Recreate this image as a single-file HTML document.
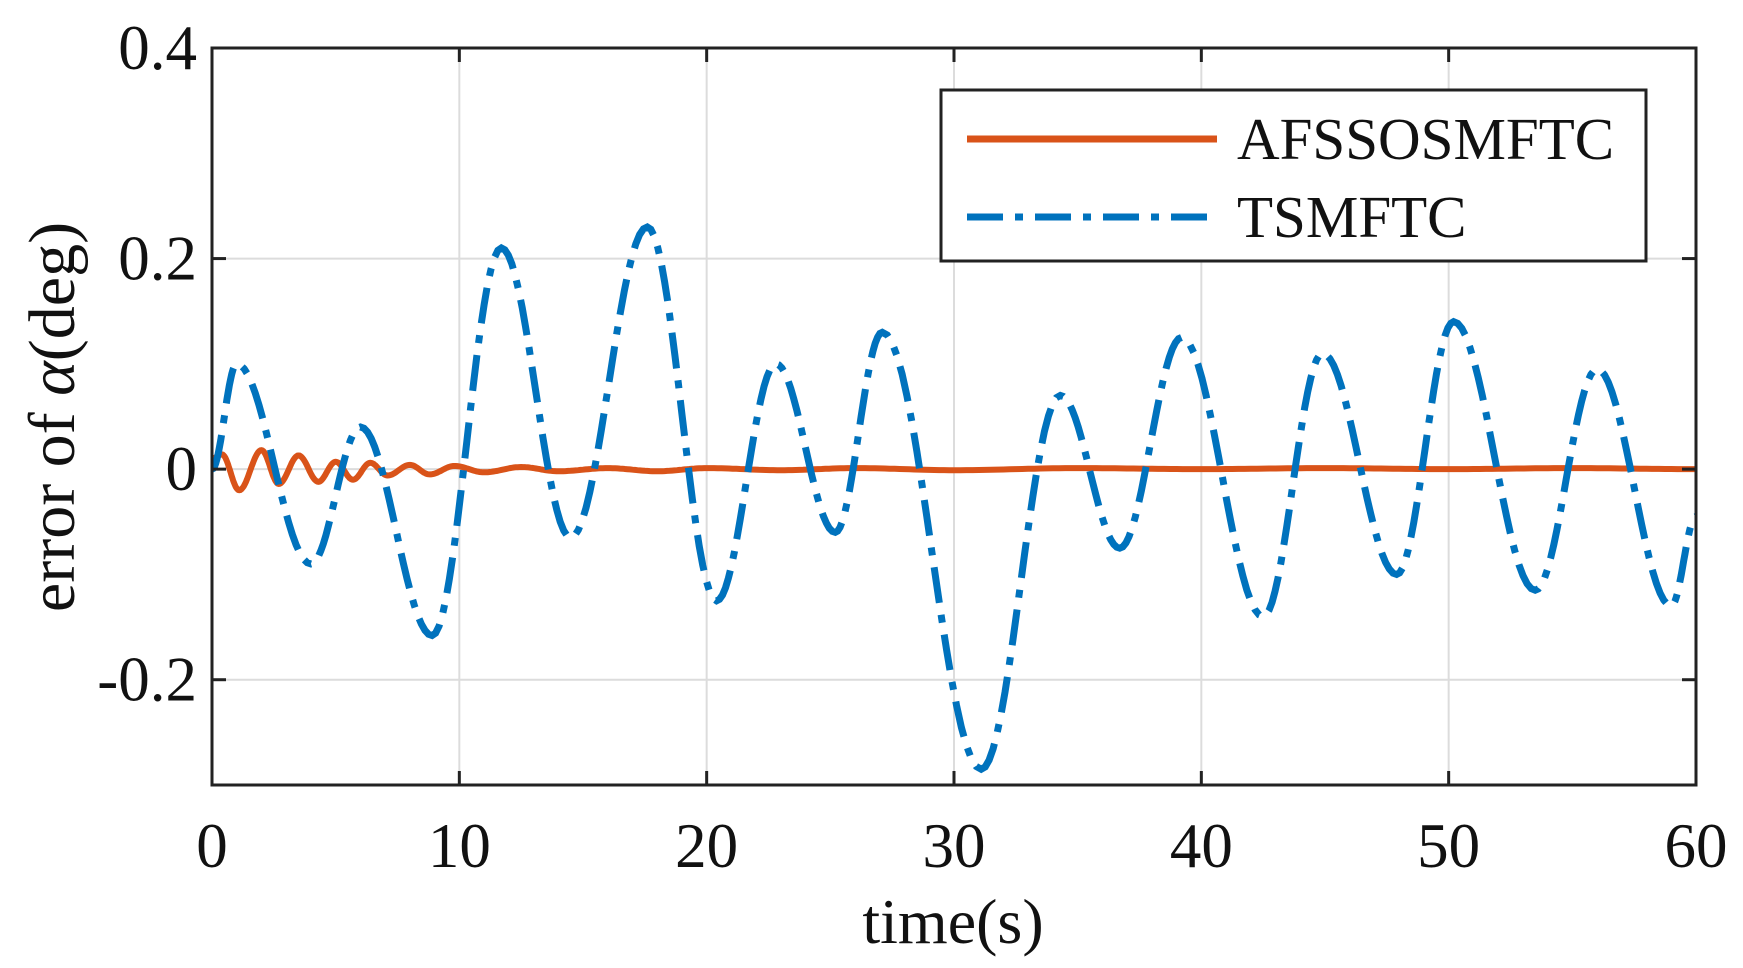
<!DOCTYPE html>
<html><head><meta charset="utf-8"><style>
html,body{margin:0;padding:0;background:#fff;}
svg text{font-family:"Liberation Serif",serif;fill:#111;}
</style></head><body>
<svg id="chart" width="1743" height="963" viewBox="0 0 1743 963" xmlns="http://www.w3.org/2000/svg">
<g id="grid"></g>
<g id="series"></g>
<g id="axes"></g>
<g id="legend">
<rect x="941" y="90" width="705" height="171" fill="#fff" stroke="#222" stroke-width="3"/>
<line x1="967" y1="139" x2="1217" y2="139" stroke="#D95319" stroke-width="7"/>
<text x="1237" y="159" font-size="59">AFSSOSMFTC</text>
<line x1="967" y1="217" x2="1217" y2="217" stroke="#0072BD" stroke-width="7" stroke-dasharray="36 12 8 12"/>
<text x="1237" y="237" font-size="59">TSMFTC</text>
</g>
<text x="953" y="943" font-size="64" text-anchor="middle">time(s)</text>
<text transform="translate(74,417) rotate(-90)" font-size="66" text-anchor="middle">error of <tspan font-style="italic">α</tspan>(deg)</text>
</svg>
<script>
const xTicks=[0,10,20,30,40,50,60];
const yTicks=[-0.2,0,0.2,0.4];
const yTickLabels=["-0.2","0","0.2","0.4"];
const tsTimes=[0,1.0,4.0,6.0,8.9,11.7,14.5,17.6,20.4,22.8,25.2,27.1,31.1,34.3,36.7,39.2,42.5,44.9,47.9,50.2,53.5,56.0,59.0,60];
const tsValues=[0,0.10,-0.09,0.04,-0.158,0.21,-0.065,0.23,-0.125,0.10,-0.06,0.13,-0.285,0.07,-0.075,0.125,-0.14,0.11,-0.10,0.14,-0.115,0.095,-0.13,-0.045];
const afTimes=[0,0.4,1.1,2.0,2.7,3.5,4.3,5.0,5.7,6.4,7.1,8.0,8.8,9.8,11,12.5,14,16,18,20,23,26,30,35,40,45,50,55,60];
const afValues=[0.01,0.014,-0.02,0.018,-0.014,0.013,-0.012,0.007,-0.01,0.006,-0.006,0.004,-0.005,0.003,-0.003,0.002,-0.002,0.001,-0.002,0.001,-0.001,0.001,-0.001,0.001,0,0.001,0,0.001,0];
const L=212,R=1696,T=48,B=785,xmin=0,xmax=60,ymin=-0.3,ymax=0.4;
const sx=t=>L+(t-xmin)/(xmax-xmin)*(R-L);
const sy=v=>B-(v-ymin)/(ymax-ymin)*(B-T);
const NS="http://www.w3.org/2000/svg";
function mk(tag,attrs,parent){const e=document.createElementNS(NS,tag);for(const k in attrs)e.setAttribute(k,attrs[k]);parent.appendChild(e);return e;}
const grid=document.getElementById('grid'),axes=document.getElementById('axes'),series=document.getElementById('series');
xTicks.forEach((t,i)=>{
  if(t>xmin&&t<xmax){const g=mk('line',{x1:sx(t),x2:sx(t),y1:T,y2:B,stroke:'#dcdcdc','stroke-width':2},grid);
  
  }
  const tk=mk('line',{x1:sx(t),x2:sx(t),y1:B,y2:B-14,stroke:'#222','stroke-width':3},axes);
  
  
  const tk2=mk('line',{x1:sx(t),x2:sx(t),y1:T,y2:T+14,stroke:'#222','stroke-width':3},axes);
  
  
  const lb=mk('text',{x:sx(t),y:B+82,'font-size':63,'text-anchor':'middle'},axes);
  lb.textContent=String(t);
  
  
});
yTicks.forEach((v,i)=>{
  if(v>ymin&&v<ymax){const g=mk('line',{x1:L,x2:R,y1:sy(v),y2:sy(v),stroke:'#dcdcdc','stroke-width':2},grid);
  
  }
  const tk=mk('line',{x1:L,x2:L+14,y1:sy(v),y2:sy(v),stroke:'#222','stroke-width':3},axes);
  
  
  const tk2=mk('line',{x1:R,x2:R-14,y1:sy(v),y2:sy(v),stroke:'#222','stroke-width':3},axes);
  
  
  const lb=mk('text',{x:197,y:sy(v)+21,'font-size':63,'text-anchor':'end'},axes);
  lb.textContent=yTickLabels[i];
  
  
});
const frame=mk('rect',{x:L,y:T,width:R-L,height:B-T,fill:'none',stroke:'#222','stroke-width':3},axes);


function smoothPath(ts,vs){
  let d='M'+sx(ts[0]).toFixed(1)+' '+sy(vs[0]).toFixed(1);
  for(let i=0;i<ts.length-1;i++){
    const n=20;
    for(let k=1;k<=n;k++){const f=k/n,w=(1-Math.cos(Math.PI*f))/2;
      const t=ts[i]+(ts[i+1]-ts[i])*f,v=vs[i]+(vs[i+1]-vs[i])*w;
      d+=' L'+sx(t).toFixed(1)+' '+sy(v).toFixed(1);}
  }
  return d;
}
const clip=mk('clipPath',{id:'pc'},series);
mk('rect',{x:L,y:T,width:R-L,height:B-T},clip);
const af=mk('path',{d:smoothPath(afTimes,afValues),fill:'none',stroke:'#D95319','stroke-width':6,'clip-path':'url(#pc)'},series);


const ts=mk('path',{d:smoothPath(tsTimes,tsValues),fill:'none',stroke:'#0072BD','stroke-width':7,'stroke-dasharray':'36 12 8 12','clip-path':'url(#pc)'},series);


</script>
</body></html>
